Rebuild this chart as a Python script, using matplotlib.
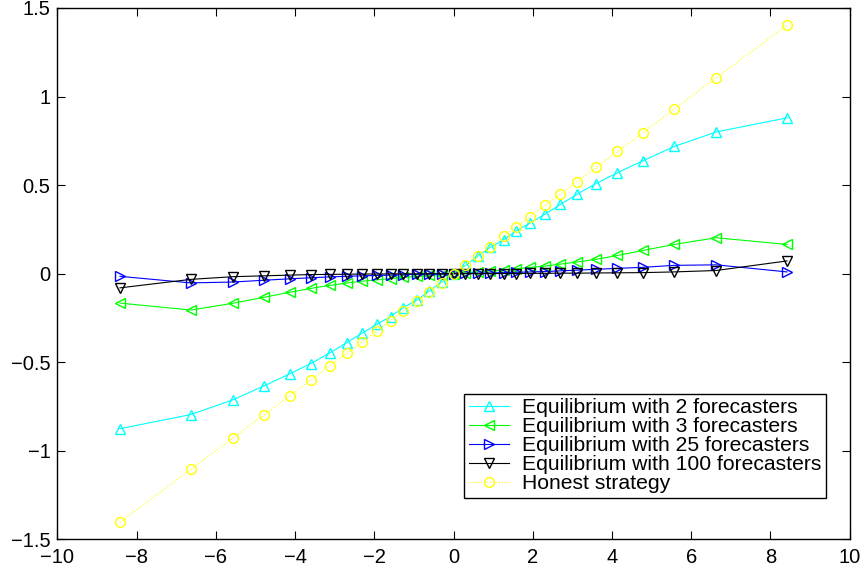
import numpy as np
import matplotlib
matplotlib.use("Agg")
import matplotlib.pyplot as plt
from matplotlib.ticker import FuncFormatter

plt.rcParams['font.family'] = ['Liberation Sans', 'DejaVu Sans']

# signal values (x)
x = [-8.42, -6.63, -5.57, -4.78, -4.14, -3.60, -3.12, -2.70, -2.31, -1.93, -1.59, -1.27, -0.92, -0.61, -0.30,
     0.0, 0.30, 0.61, 0.92, 1.27, 1.59, 1.93, 2.31, 2.70, 3.12, 3.60, 4.14, 4.78, 5.57, 6.63, 8.42]

eq2 = [-0.875, -0.795, -0.712, -0.633, -0.566, -0.507, -0.447, -0.390, -0.336, -0.285, -0.242, -0.192, -0.148, -0.098, -0.047,
       0.0, 0.047, 0.098, 0.148, 0.192, 0.243, 0.285, 0.336, 0.391, 0.449, 0.509, 0.570, 0.637, 0.718, 0.800, 0.880]
eq3 = [-0.166, -0.205, -0.167, -0.133, -0.105, -0.083, -0.066, -0.053, -0.042, -0.035, -0.028, -0.021, -0.015, -0.010, -0.005,
       0.0, 0.005, 0.010, 0.015, 0.021, 0.028, 0.035, 0.043, 0.054, 0.066, 0.081, 0.103, 0.131, 0.165, 0.203, 0.165]
eq25 = [-0.015, -0.052, -0.047, -0.037, -0.029, -0.023, -0.018, -0.015, -0.012, -0.010, -0.008, -0.006, -0.004, -0.003, -0.002,
        0.0, 0.002, 0.003, 0.004, 0.006, 0.008, 0.010, 0.012, 0.016, 0.020, 0.025, 0.030, 0.036, 0.047, 0.050, 0.010]
eq100 = [-0.080, -0.032, -0.017, -0.012, -0.008, -0.005, -0.004, -0.003, -0.002, -0.002, -0.001, -0.001, -0.001, 0.0, 0.0,
         0.0, 0.0, 0.0, 0.001, 0.001, 0.001, 0.002, 0.002, 0.003, 0.003, 0.004, 0.005, 0.006, 0.010, 0.018, 0.072]
honest = [-1.403, -1.105, -0.928, -0.797, -0.690, -0.600, -0.520, -0.450, -0.385, -0.322, -0.265, -0.212, -0.153, -0.102, -0.050,
          0.0, 0.050, 0.102, 0.153, 0.212, 0.265, 0.322, 0.385, 0.450, 0.520, 0.600, 0.690, 0.797, 0.928, 1.105, 1.403]

labels = ["Equilibrium with 2 forecasters", "Equilibrium with 3 forecasters",
          "Equilibrium with 25 forecasters", "Equilibrium with 100 forecasters",
          "Honest strategy"]

fig = plt.figure(figsize=(8.63, 5.69), dpi=100)
ax = fig.add_axes([0.0665, 0.052, 0.918, 0.934])

ms = 7
lw = 0.8
ax.plot(x, eq2, color=(0, 1, 1), marker='^', mfc='none', ms=ms, lw=lw, label=labels[0])
ax.plot(x, eq3, color=(0, 1, 0), marker='<', mfc='none', ms=ms, lw=lw, label=labels[1])
ax.plot(x, eq25, color=(0, 0, 1), marker='>', mfc='none', ms=ms, lw=lw, label=labels[2])
ax.plot(x, eq100, color='black', marker='v', mfc='none', ms=ms, lw=lw, label=labels[3])
ax.plot(x, honest, color=(1, 1, 0), marker='o', mfc='none', ms=ms, lw=lw, ls=':', label=labels[4])

ax.set_xlim(-10, 10)
ax.set_ylim(-1.5, 1.5)
ax.set_xticks(np.arange(-10, 11, 2))
ax.set_yticks(np.arange(-1.5, 1.51, 0.5))
fmt = FuncFormatter(lambda v, p: ('%g' % v).replace('-', '\u2212'))
ax.xaxis.set_major_formatter(fmt)
ax.yaxis.set_major_formatter(fmt)
ax.tick_params(direction='in', top=True, right=True, length=5.5, width=0.8, labelsize=14.5)
ax.tick_params(axis='y', pad=5)
ax.tick_params(axis='x', pad=6)
for s in ax.spines.values():
    s.set_linewidth(1.0)

leg = ax.legend(loc='lower right', bbox_to_anchor=(0.970, 0.078), borderaxespad=0,
                fontsize=15.2, fancybox=False, edgecolor='black', framealpha=1,
                handlelength=1.9, handletextpad=0.6, labelspacing=0.0, borderpad=0.22)
leg.get_frame().set_linewidth(1.0)

fig.savefig("out.png", dpi=100)
